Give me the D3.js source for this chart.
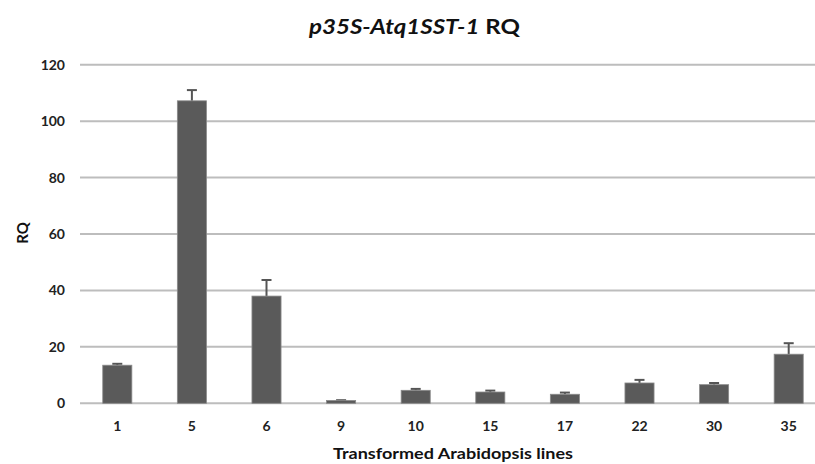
<!DOCTYPE html>
<html>
<head>
<meta charset="utf-8">
<script src="https://cdn.jsdelivr.net/npm/d3@7"></script>
<style>
  html, body { margin: 0; padding: 0; background: #fff; }
  svg { display: block; font-family: Lato, "Open Sans", "Noto Sans", sans-serif; }
</style>
</head>
<body>
<svg id="chart" width="815" height="464"></svg>
<script>
const categories = ["1", "5", "6", "9", "10", "15", "17", "22", "30", "35"];
const rqValues   = [13.5, 107.2, 38.0, 1.0, 4.6, 4.0, 3.2, 7.2, 6.6, 17.4];
const rqErrors   = [0.5, 3.8, 5.7, 0.1, 0.5, 0.5, 0.6, 1.1, 0.6, 3.9];
const yTicks     = [0, 20, 40, 60, 80, 100, 120];

const svg = d3.select("#chart");
const W = 815, H = 464;
const plot = { left: 80, right: 826, top: 64.7, bottom: 403.3 };
const FONT = "Lato, 'Open Sans', sans-serif";

const x = d3.scaleBand().domain(categories).range([plot.left, plot.right]).paddingInner(0.61).paddingOuter(0.305);
const y = d3.scaleLinear().domain([0, 120]).range([plot.bottom, plot.top]);

// gridlines
svg.append("g").selectAll("line").data(yTicks).join("line")
  .attr("x1", plot.left).attr("x2", W)
  .attr("y1", d => y(d)).attr("y2", d => y(d))
  .attr("stroke", "#bdbdbd").attr("stroke-width", 2);

// y axis labels
const yAxis = d3.axisLeft(y).tickValues(yTicks).tickSize(0).tickPadding(15);
const gy = svg.append("g").attr("transform", `translate(${plot.left},0)`).call(yAxis);
gy.select(".domain").remove();
gy.selectAll("text").attr("font-size", 14).attr("font-weight", "bold").attr("fill", "#222")
  .attr("font-family", FONT);

// x axis labels
const xAxis = d3.axisBottom(x).tickSize(0).tickPadding(18);
const gx = svg.append("g").attr("transform", `translate(0,${plot.bottom})`).call(xAxis);
gx.select(".domain").remove();
gx.selectAll("text").attr("font-size", 14).attr("font-weight", "bold").attr("fill", "#222")
  .attr("font-family", FONT);

const data = categories.map((c, i) => ({ c, v: rqValues[i], e: rqErrors[i] }));

// error bars
const eg = svg.append("g").attr("stroke", "#555").attr("stroke-width", 2);
eg.selectAll("line.v").data(data).join("line").attr("class", "v")
  .attr("x1", d => x(d.c) + x.bandwidth() / 2).attr("x2", d => x(d.c) + x.bandwidth() / 2)
  .attr("y1", d => y(d.v)).attr("y2", d => y(d.v + d.e));
eg.selectAll("line.h").data(data).join("line").attr("class", "h")
  .attr("x1", d => x(d.c) + x.bandwidth() / 2 - 5).attr("x2", d => x(d.c) + x.bandwidth() / 2 + 5)
  .attr("y1", d => y(d.v + d.e)).attr("y2", d => y(d.v + d.e));

// bars
svg.append("g").selectAll("rect").data(data).join("rect")
  .attr("x", d => x(d.c)).attr("width", x.bandwidth())
  .attr("y", d => y(d.v)).attr("height", d => y(0) - y(d.v))
  .attr("fill", "#5a5a5a").attr("stroke", "#8a8a8a").attr("stroke-width", 0.8);

// title
const title = svg.append("text").attr("x", 414.5).attr("y", 33.5).attr("text-anchor", "middle")
  .attr("font-size", 20).attr("font-weight", "bold").attr("fill", "#111")
  .attr("font-family", FONT)
  .attr("textLength", 211).attr("lengthAdjust", "spacingAndGlyphs");
title.append("tspan").attr("font-style", "italic").text("p35S-Atq1SST-1");
title.append("tspan").text(" RQ");

// axis titles
svg.append("text").attr("transform", "translate(27.5,233) rotate(-90)").attr("text-anchor", "middle")
  .attr("font-size", 15).attr("font-weight", "bold").attr("fill", "#111")
  .attr("font-family", FONT).text("RQ");
svg.append("text").attr("x", 453).attr("y", 459).attr("text-anchor", "middle")
  .attr("font-size", 15).attr("font-weight", "bold").attr("fill", "#111")
  .attr("font-family", FONT)
  .attr("textLength", 240).attr("lengthAdjust", "spacingAndGlyphs")
  .text("Transformed Arabidopsis lines");
</script>
</body>
</html>
